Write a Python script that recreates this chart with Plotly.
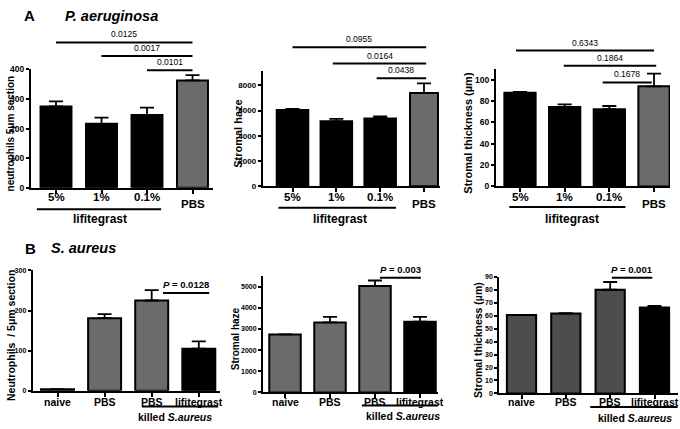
import plotly.graph_objects as go

W, H = 680, 429
FONT = "Liberation Sans, Arial, sans-serif"

# ---------------- data ----------------
A_categories = ["5%", "1%", "0.1%", "PBS"]
A_group_label = "lifitegrast"
A_neutrophils = [275, 216, 246, 363]
A_neutrophils_err = [17, 21, 25, 18]
A_haze = [6050, 5150, 5380, 7400]
A_haze_err = [80, 200, 150, 750]
A_thickness = [88, 74.5, 72.5, 94]
A_thickness_err = [0.8, 2.5, 3, 12]
A_neutrophils_p = ["0.0125", "0.0017", "0.0101"]
A_haze_p = ["0.0955", "0.0164", "0.0438"]
A_thickness_p = ["0.6343", "0.1864", "0.1678"]

B_categories = ["naive", "PBS", "PBS", "lifitegrast"]
B_group_label = "killed <i>S.aureus</i>"
B_neutrophils = [4, 181, 225, 105]
B_neutrophils_err = [0, 10, 26, 18]
B_haze = [2740, 3310, 5030, 3340]
B_haze_err = [0, 260, 260, 230]
B_thickness = [60.6, 61.6, 80, 66.3]
B_thickness_err = [0, 0.3, 6, 1.3]
B_neutrophils_p = "0.0128"
B_haze_p = "0.003"
B_thickness_p = "0.001"

# ---------------- styles / layout geometry (pixels) ----------------
BLACK = "#000000"
GRAY = "#6b6b6b"
DGRAY = "#4d4d4d"

panels = [
    dict(vals=A_neutrophils, err=A_neutrophils_err, cats=A_categories, colors=[BLACK, BLACK, BLACK, GRAY],
         x0=31, x1=213, yt=66, yb=187, ymax=400, dtick=100, c0=56, c3=192.5, bw=[0.68] * 4,
         ytitle="neutrophils 5μm section", ytx=10, ytfs=10, tickfs=8.5,
         pvals=A_neutrophils_p, brackets=[(0, 3, 38.3), (1, 3, 52.3), (2, 3, 66.7)]),
    dict(vals=A_haze, err=A_haze_err, cats=A_categories, colors=[BLACK, BLACK, BLACK, GRAY],
         x0=262.7, x1=440, yt=68, yb=185.7, ymax=9100, dtick=2000, c0=292.5, c3=424, bw=[0.72, 0.72, 0.72, 0.64],
         ytitle="Stromal haze", ytx=238, ytfs=11, tickfs=8,
         pvals=A_haze_p, brackets=[(0, 3.05, 43.3), (0.92, 3.05, 60), (1.92, 3.05, 75)]),
    dict(vals=A_thickness, err=A_thickness_err, cats=A_categories, colors=[BLACK, BLACK, BLACK, GRAY],
         x0=496, x1=670, yt=65.8, yb=185.7, ymax=110, dtick=20, c0=520, c3=654, bw=[0.7] * 4,
         ytitle="Stromal thickness (µm)", ytx=468, ytfs=11, tickfs=8.5,
         pvals=A_thickness_p, brackets=[(-0.09, 3.0, 46.7), (0.98, 3.05, 62.3), (1.85, 2.95, 79.3)]),
    dict(vals=B_neutrophils, err=B_neutrophils_err, cats=B_categories, colors=[GRAY, GRAY, GRAY, BLACK],
         x0=32.7, x1=220, yt=271.7, yb=395, ymax=300, dtick=100, c0=57.5, c3=198.8, bw=[0.7] * 4,
         ytitle="Neutrophils  / 5μm section", ytx=11.5, ytfs=10.5, tickfs=7,
         pvals=[B_neutrophils_p], brackets=[(2.24, 3.22, 295)]),
    dict(vals=B_haze, err=B_haze_err, cats=B_categories, colors=[GRAY, GRAY, GRAY, BLACK],
         x0=263, x1=438, yt=277.5, yb=396.7, ymax=5500, dtick=1000, c0=285, c3=420, bw=[0.7] * 4,
         ytitle="Stromal haze", ytx=235, ytfs=10, tickfs=7,
         pvals=[B_haze_p], brackets=[(2.11, 3.02, 279.3)]),
    dict(vals=B_thickness, err=B_thickness_err, cats=B_categories, colors=[DGRAY, DGRAY, DGRAY, BLACK],
         x0=499.3, x1=678, yt=278.3, yb=397.7, ymax=90, dtick=10, c0=521.5, c3=654.5, bw=[0.66] * 4,
         ytitle="Stromal thickness (µm)", ytx=478, ytfs=10.5, tickfs=7,
         pvals=[B_thickness_p], brackets=[(2.04, 2.95, 279.3)]),
]


def px(x):
    return x / W


def py(y):
    return 1 - y / H


fig = go.Figure()
annotations = []
shapes = []

for k, p in enumerate(panels):
    n = k + 1
    xa = "x" if n == 1 else f"x{n}"
    ya = "y" if n == 1 else f"y{n}"
    u = (p["c3"] - p["c0"]) / 3.0
    xr = [(p["x0"] - p["c0"]) / u, (p["x1"] - p["c0"]) / u]
    fig.add_trace(go.Bar(
        x=list(range(len(p["vals"]))), y=p["vals"], width=p["bw"],
        marker=dict(color=p["colors"], line=dict(color="black", width=2)),
        error_y=dict(type="data", symmetric=False, array=p["err"], arrayminus=[0] * len(p["err"]),
                     color="black", thickness=1.8, width=7),
        xaxis=xa, yaxis=ya, showlegend=False, hoverinfo="skip",
    ))
    fig.layout[("xaxis" if n == 1 else f"xaxis{n}")] = dict(
        domain=[px(p["x0"]), px(p["x1"])], range=xr, anchor=ya,
        showline=True, linecolor="black", linewidth=2, ticks="outside", ticklen=4, tickwidth=1.5,
        tickcolor="black", tickvals=[0, 1, 2, 3], showticklabels=False, showgrid=False, zeroline=False,
    )
    fig.layout[("yaxis" if n == 1 else f"yaxis{n}")] = dict(
        domain=[py(p["yb"]), py(p["yt"])], range=[0, p["ymax"]], anchor=xa,
        showline=True, linecolor="black", linewidth=2, ticks="outside", ticklen=3, tickwidth=1.5,
        tickcolor="black", dtick=p["dtick"], tick0=0, showgrid=False, zeroline=False,
        tickfont=dict(family=FONT, size=p["tickfs"], color="black", weight="bold"),
    )
    # y-axis title
    annotations.append(dict(
        text=p["ytitle"], xref="paper", yref="paper", x=px(p["ytx"]), y=py((p["yt"] + p["yb"]) / 2 + 5),
        textangle=-90, showarrow=False, xanchor="center", yanchor="middle",
        font=dict(family=FONT, size=p["ytfs"], color="black", weight="bold"),
    ))
    # significance brackets
    for (a, b, ypx), txt in zip(p["brackets"], p["pvals"]):
        shapes.append(dict(type="line", xref=xa, yref="paper", x0=a, x1=b, y0=py(ypx), y1=py(ypx),
                           line=dict(color="black", width=2)))
        label = txt if k < 3 else "<i>P</i> = " + txt
        annotations.append(dict(
            text=label, xref=xa, yref="paper", x=(a + b) / 2, y=py(ypx - 1), showarrow=False,
            xanchor="center", yanchor="bottom",
            font=dict(family=FONT, size=8.5 if k < 3 else 9.5, color="black", weight="normal" if k < 3 else "bold"),
        ))

# category labels and group underlines
for k, p in enumerate(panels):
    n = k + 1
    xa = "x" if n == 1 else f"x{n}"
    for i, c in enumerate(p["cats"]):
        if k < 3:
            ypx = 204 if c == "PBS" else 197
            fs = 11.5
        else:
            ypx = 406
            fs = 10.5
        annotations.append(dict(text=c, xref=xa, yref="paper", x=i, y=py(ypx), showarrow=False,
                                xanchor="center", yanchor="middle",
                                font=dict(family=FONT, size=fs, color="black", weight="bold")))

group_lines = [(-0.42, 2.31, 209, 0.97, 219), (-0.32, 2.36, 207.7, 1.08, 219), (-0.24, 2.36, 206.7, 1.16, 219),
               (1.79, 3.41, 411, 2.5, 422), (1.71, 3.4, 410, 2.62, 421), (1.55, 3.52, 411.7, 2.56, 422.5)]
for k, (a, b, ly, tx, ty) in enumerate(group_lines):
    n = k + 1
    xa = "x" if n == 1 else f"x{n}"
    shapes.append(dict(type="line", xref=xa, yref="paper", x0=a, x1=b, y0=py(ly), y1=py(ly),
                       line=dict(color="black", width=2)))
    annotations.append(dict(text=A_group_label if k < 3 else B_group_label, xref=xa, yref="paper",
                            x=tx, y=py(ty), showarrow=False, xanchor="center", yanchor="middle",
                            font=dict(family=FONT, size=12 if k < 3 else 10.5, color="black", weight="bold")))

# panel titles
for letter, lx, name, nx, ty in [("A", 29.5, "P. aeruginosa", 111, 11), ("B", 30, "S. aureus", 83, 249)]:
    annotations.append(dict(text=letter, xref="paper", yref="paper", x=px(lx), y=py(ty), showarrow=False,
                            xanchor="center", yanchor="middle",
                            font=dict(family=FONT, size=15, color="black", weight="bold")))
    annotations.append(dict(text="<i>" + name + "</i>", xref="paper", yref="paper", x=px(nx), y=py(ty),
                            showarrow=False, xanchor="center", yanchor="middle",
                            font=dict(family=FONT, size=14.5, color="black", weight="bold")))

fig.update_layout(
    width=W, height=H, margin=dict(l=0, r=0, t=0, b=0),
    paper_bgcolor="white", plot_bgcolor="white",
    annotations=annotations, shapes=shapes,
    font=dict(family=FONT, color="black"),
)

fig.write_html("out.html", config={"displayModeBar": False},
               post_script="document.body.style.margin='0px';document.body.style.overflow='hidden';")
